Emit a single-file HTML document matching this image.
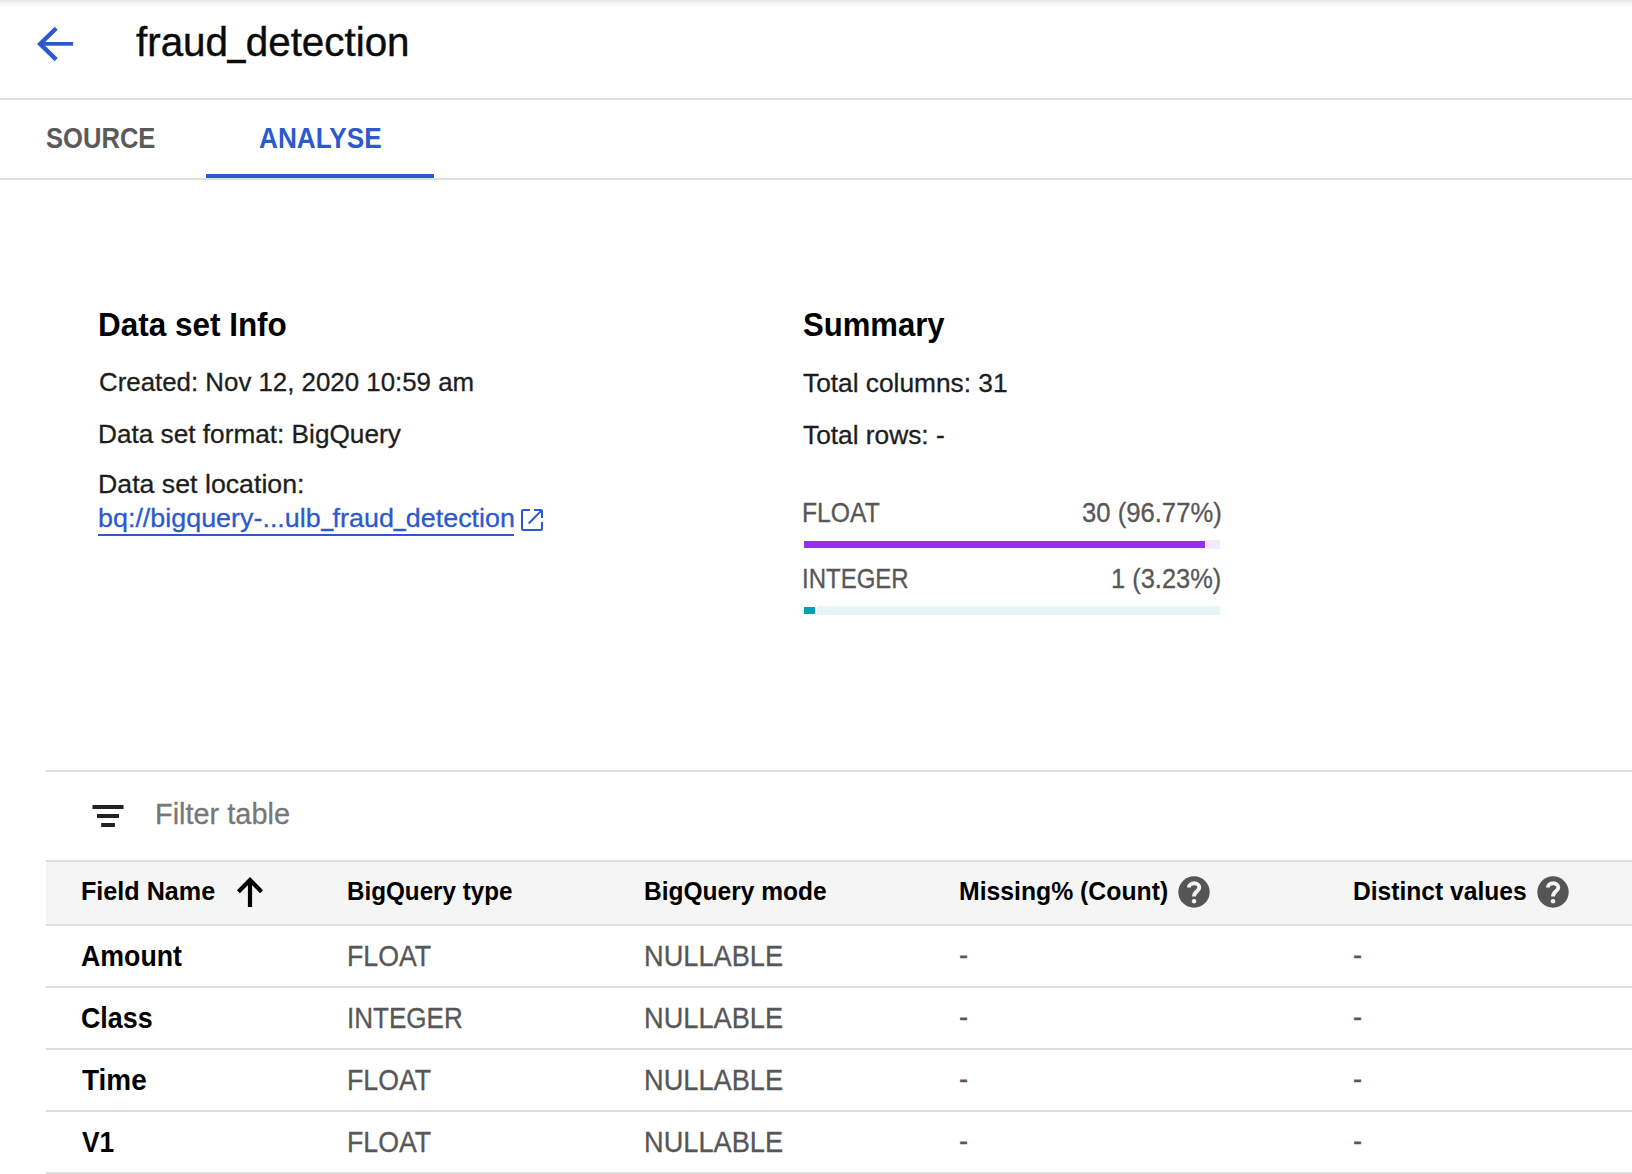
<!DOCTYPE html>
<html lang="en">
<head>
<meta charset="utf-8">
<title>fraud_detection</title>
<style>
html,body{margin:0;padding:0;background:#fff;}
body{width:1632px;height:1174px;overflow:hidden;position:relative;font-family:"Liberation Sans",Arial,sans-serif;}
#app{position:absolute;left:0;top:0;width:1632px;height:1174px;overflow:hidden;background:#fff;}
.t{position:absolute;margin:0;padding:0;line-height:1;white-space:nowrap;font-weight:400;transform-origin:0 0;display:block;text-decoration:none;}
.us{display:inline-block;transform:translateY(-0.13em) scale(0.8,1.15);margin:0 -0.057em;}
.ico{position:absolute;display:block;overflow:visible;}
.hl{position:absolute;height:2px;background:#dedede;}
.shadow{position:absolute;left:0;top:0;width:1632px;height:10px;background:linear-gradient(to bottom,#e5e5e5 0px,#efefef 2px,#f7f7f7 4px,#fcfcfc 7px,#fff 10px);}
.ink{position:absolute;left:206px;top:174px;width:228px;height:4px;background:#2c5acd;}
.thead{position:absolute;left:46px;top:862px;width:1586px;height:62px;background:#f5f5f5;}
.row{position:absolute;left:46px;width:1586px;height:60px;border-bottom:2px solid #dedede;}
.bar{position:absolute;}
</style>
</head>
<body>
<div id="app">
  <header>
    <div class="shadow"></div>
    <svg class="ico" style="left:30px;top:20px" width="50" height="48" viewBox="30 20 50 48" aria-label="Back">
      <path d="M56.2 28.2 L40.1 43.9 L56.2 59.6" fill="none" stroke="#2c5acd" stroke-width="4.3" stroke-linejoin="miter"/><path d="M40.4 43.9 H73.1" fill="none" stroke="#2c5acd" stroke-width="3.9"/>
    </svg>
    <h1 class="t" id="title" aria-label="fraud_detection" style="left:135.58px;top:21.80px;font-size:41.11px;color:#0b0b0b;-webkit-text-stroke:0.45px;transform:scaleX(0.9811);">fraud<span class="us">_</span>detection</h1>
    <div class="hl" style="left:0;top:98px;width:1632px"></div>
  </header>
  <nav>
    <span class="t" id="tab1" style="left:45.74px;top:123.85px;font-size:29.26px;color:#5a5a5a;font-weight:700;transform:scaleX(0.8744);">SOURCE</span>
    <span class="t" id="tab2" style="left:258.84px;top:123.85px;font-size:29.26px;color:#2c5acd;font-weight:700;transform:scaleX(0.8944);">ANALYSE</span>
    <div class="hl" style="left:0;top:178px;width:1632px"></div>
    <div class="ink"></div>
  </nav>
  <main>
    <section>
      <h2 class="t" id="h1" style="left:98.17px;top:308.27px;font-size:33.7px;color:#000;font-weight:700;transform:scaleX(0.9339);">Data set Info</h2>
      <span class="t" id="i1" style="left:98.85px;top:369.21px;font-size:26.69px;color:#1d1d1d;-webkit-text-stroke:0.3px;transform:scaleX(0.9687);">Created: Nov 12, 2020 10:59 am</span>
      <span class="t" id="i2" style="left:98.04px;top:421.11px;font-size:26.69px;color:#1d1d1d;-webkit-text-stroke:0.3px;transform:scaleX(0.9814);">Data set format: BigQuery</span>
      <span class="t" id="i3" style="left:98.33px;top:470.61px;font-size:26.69px;color:#1d1d1d;-webkit-text-stroke:0.3px;transform:scaleX(1.0013);">Data set location:</span>
      <a class="t" id="link" aria-label="bq://bigquery-...ulb_fraud_detection" style="left:98.39px;top:505.00px;font-size:26.69px;color:#2c5acd;-webkit-text-stroke:0.3px;transform:scaleX(1.0075);">bq://bigquery-...ulb<span class="us">_</span>fraud<span class="us">_</span>detection</a>
      <div class="bar" style="left:98px;top:534px;width:416px;height:2px;background:#2c5acd"></div>
      <svg class="ico" style="left:521px;top:509px" width="22" height="22" viewBox="0 0 22 22">
        <path d="M9 1 H2.2 Q1 1 1 2.2 V19.8 Q1 21 2.2 21 H19.8 Q21 21 21 19.8 V13 M13 1 H19.8 Q21 1 21 2.2 V9 M20.4 1.6 L7.7 14.5" fill="none" stroke="#2c5acd" stroke-width="2"/>
      </svg>
    </section>
    <section>
      <h2 class="t" id="h2" style="left:802.85px;top:308.27px;font-size:33.7px;color:#000;font-weight:700;transform:scaleX(0.9226);">Summary</h2>
      <span class="t" id="s1" style="left:803.42px;top:370.00px;font-size:26.69px;color:#1d1d1d;-webkit-text-stroke:0.3px;transform:scaleX(0.9851);">Total columns: 31</span>
      <span class="t" id="s2" style="left:803.42px;top:422.00px;font-size:26.69px;color:#1d1d1d;-webkit-text-stroke:0.3px;transform:scaleX(0.9849);">Total rows: -</span>
      <span class="t" id="b1l" style="left:802.18px;top:499.18px;font-size:27.19px;color:#575757;-webkit-text-stroke:0.3px;transform:scaleX(0.9093);">FLOAT</span><span class="t" id="b1r" style="left:1081.78px;top:498.78px;font-size:27.19px;color:#575757;-webkit-text-stroke:0.3px;transform:scaleX(0.9435);">30 (96.77%)</span>
      <div class="bar" style="left:804px;top:540px;width:416px;height:9px;background:#f4e9fd"></div>
      <div class="bar" style="left:804px;top:540px;width:402px;height:9px;background:#fff"></div>
      <div class="bar" style="left:804px;top:541px;width:401px;height:7px;background:#952df2"></div>
      <span class="t" id="b2l" style="left:802.28px;top:564.98px;font-size:27.19px;color:#575757;-webkit-text-stroke:0.3px;transform:scaleX(0.8824);">INTEGER</span><span class="t" id="b2r" style="left:1111.24px;top:564.98px;font-size:27.19px;color:#575757;-webkit-text-stroke:0.3px;transform:scaleX(0.9357);">1 (3.23%)</span>
      <div class="bar" style="left:804px;top:606px;width:416px;height:9px;background:#e7f5f7"></div>
      <div class="bar" style="left:804px;top:606px;width:13px;height:9px;background:#fff"></div>
      <div class="bar" style="left:804px;top:607px;width:11px;height:7px;background:#0b9db5"></div>
    </section>
    <section>
      <div class="hl" style="left:46px;top:770px;width:1586px"></div>
      <svg class="ico" style="left:88px;top:800px" width="40" height="32" viewBox="88 800 40 32">
        <rect x="92.5" y="805" width="31" height="4" fill="#212121"/>
        <rect x="97" y="814" width="22" height="4" fill="#212121"/>
        <rect x="101.2" y="823" width="13.7" height="4" fill="#212121"/>
      </svg>
      <span class="t" id="filter" style="left:155.24px;top:799.84px;font-size:29.03px;color:#777;-webkit-text-stroke:0.3px;transform:scaleX(0.9963);">Filter table</span>
      <div class="hl" style="left:46px;top:860px;width:1586px"></div>
      <div class="thead"></div>
      <div class="hl" style="left:46px;top:924px;width:1586px"></div>
      <span class="t" id="th1" style="left:80.71px;top:878.03px;font-size:26.69px;color:#000;font-weight:700;transform:scaleX(0.9428);">Field Name</span>
      <svg class="ico" style="left:230px;top:870px" width="40" height="44" viewBox="230 870 40 44">
        <path d="M238.4 891.7 L250 880 L261.6 891.7 M250 880.5 V907" fill="none" stroke="#000" stroke-width="4.2"/>
      </svg>
      <span class="t" id="th2" style="left:346.60px;top:877.85px;font-size:26.69px;color:#000;font-weight:700;transform:scaleX(0.9074);">BigQuery type</span>
      <span class="t" id="th3" style="left:644.45px;top:877.85px;font-size:26.69px;color:#000;font-weight:700;transform:scaleX(0.9185);">BigQuery mode</span>
      <span class="t" id="th4" style="left:958.80px;top:877.85px;font-size:26.69px;color:#000;font-weight:700;transform:scaleX(0.9281);">Missing% (Count)</span>
      <svg class="ico" style="left:1175.9px;top:873.9px" width="36" height="36" viewBox="-18 -18 36 36"><circle r="15.7" fill="#555"/><path d="M-5.1 -4.6 A5.2 4.2 0 0 1 5.3 -4.6 C5.3 -0.6 0 -0.8 0 4.6" fill="none" stroke="#f5f5f5" stroke-width="3.9"/><circle cx="0.05" cy="9.3" r="2.25" fill="#f5f5f5"/></svg>
      <span class="t" id="th5" style="left:1352.89px;top:877.85px;font-size:26.69px;color:#000;font-weight:700;transform:scaleX(0.9218);">Distinct values</span>
      <svg class="ico" style="left:1535.0px;top:873.9px" width="36" height="36" viewBox="-18 -18 36 36"><circle r="15.7" fill="#555"/><path d="M-5.1 -4.6 A5.2 4.2 0 0 1 5.3 -4.6 C5.3 -0.6 0 -0.8 0 4.6" fill="none" stroke="#f5f5f5" stroke-width="3.9"/><circle cx="0.05" cy="9.3" r="2.25" fill="#f5f5f5"/></svg>
      
    <div class="row" style="top:926px"></div>
    <span class="t" id="r0a" style="left:81.45px;top:942.23px;font-size:29.03px;color:#000;font-weight:700;transform:scaleX(0.9210);">Amount</span><span class="t" id="r0b" style="left:346.67px;top:940.97px;font-size:29.57px;color:#575757;-webkit-text-stroke:0.3px;transform:scaleX(0.9038);">FLOAT</span><span class="t" id="r0c" style="left:643.78px;top:940.97px;font-size:29.57px;color:#575757;-webkit-text-stroke:0.3px;transform:scaleX(0.9204);">NULLABLE</span><span class="t" id="r0d" style="left:959.04px;top:940.07px;font-size:29.57px;color:#575757;-webkit-text-stroke:0.3px;transform:scaleX(0.9208);">-</span><span class="t" id="r0e" style="left:1353.04px;top:940.07px;font-size:29.57px;color:#575757;-webkit-text-stroke:0.3px;transform:scaleX(0.9208);">-</span>
    <div class="row" style="top:988px"></div>
    <span class="t" id="r1a" style="left:80.56px;top:1004.23px;font-size:29.03px;color:#000;font-weight:700;transform:scaleX(0.9244);">Class</span><span class="t" id="r1b" style="left:346.76px;top:1002.97px;font-size:29.57px;color:#575757;-webkit-text-stroke:0.3px;transform:scaleX(0.8805);">INTEGER</span><span class="t" id="r1c" style="left:643.78px;top:1002.97px;font-size:29.57px;color:#575757;-webkit-text-stroke:0.3px;transform:scaleX(0.9204);">NULLABLE</span><span class="t" id="r1d" style="left:959.04px;top:1002.07px;font-size:29.57px;color:#575757;-webkit-text-stroke:0.3px;transform:scaleX(0.9208);">-</span><span class="t" id="r1e" style="left:1353.04px;top:1002.07px;font-size:29.57px;color:#575757;-webkit-text-stroke:0.3px;transform:scaleX(0.9208);">-</span>
    <div class="row" style="top:1050px"></div>
    <span class="t" id="r2a" style="left:81.66px;top:1066.23px;font-size:29.03px;color:#000;font-weight:700;transform:scaleX(0.9622);">Time</span><span class="t" id="r2b" style="left:346.67px;top:1064.97px;font-size:29.57px;color:#575757;-webkit-text-stroke:0.3px;transform:scaleX(0.9038);">FLOAT</span><span class="t" id="r2c" style="left:643.78px;top:1064.97px;font-size:29.57px;color:#575757;-webkit-text-stroke:0.3px;transform:scaleX(0.9204);">NULLABLE</span><span class="t" id="r2d" style="left:959.04px;top:1064.07px;font-size:29.57px;color:#575757;-webkit-text-stroke:0.3px;transform:scaleX(0.9208);">-</span><span class="t" id="r2e" style="left:1353.04px;top:1064.07px;font-size:29.57px;color:#575757;-webkit-text-stroke:0.3px;transform:scaleX(0.9208);">-</span>
    <div class="row" style="top:1112px"></div>
    <span class="t" id="r3a" style="left:81.54px;top:1126.97px;font-size:29.57px;color:#000;font-weight:700;transform:scaleX(0.8915);">V1</span><span class="t" id="r3b" style="left:346.67px;top:1126.97px;font-size:29.57px;color:#575757;-webkit-text-stroke:0.3px;transform:scaleX(0.9038);">FLOAT</span><span class="t" id="r3c" style="left:643.78px;top:1126.97px;font-size:29.57px;color:#575757;-webkit-text-stroke:0.3px;transform:scaleX(0.9204);">NULLABLE</span><span class="t" id="r3d" style="left:959.04px;top:1126.07px;font-size:29.57px;color:#575757;-webkit-text-stroke:0.3px;transform:scaleX(0.9208);">-</span><span class="t" id="r3e" style="left:1353.04px;top:1126.07px;font-size:29.57px;color:#575757;-webkit-text-stroke:0.3px;transform:scaleX(0.9208);">-</span>
    </section>
  </main>
</div>
</body>
</html>
